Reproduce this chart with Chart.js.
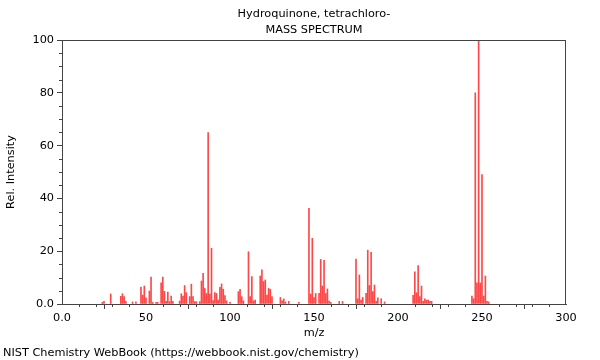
<!DOCTYPE html>
<html>
<head>
<meta charset="utf-8">
<script src="https://cdn.jsdelivr.net/npm/chart.js@4.4.1/dist/chart.umd.min.js"></script>
<style>
  html, body { margin: 0; padding: 0; background: #fff; }
  #wrap { position: relative; width: 600px; height: 360px; }
</style>
</head>
<body>
<div id="wrap"><canvas id="espectro" width="600" height="360"></canvas></div>
<script>
// Datos del espectro (m/z y abundancia relativa)
const tituloLineas = ['Hydroquinone, tetrachloro-', 'MASS SPECTRUM'];
const piePagina = 'NIST Chemistry WebBook (https://webbook.nist.gov/chemistry)';
const ticksX = [0, 50, 100, 150, 200, 250, 300];
const ticksY = [0, 20, 40, 60, 80, 100];

const masas = [
  24, 25, 29, 35, 36, 37, 38, 42, 44, 47, 48, 49, 50, 52, 53, 54, 56, 57,
  59, 60, 61, 62, 63, 64, 65, 66, 70, 71, 72, 73, 74, 76, 77, 78, 79, 80, 82,
  83, 84, 85, 86, 87, 88, 89, 90, 91, 92, 93, 94, 95, 96, 97, 98, 100,
  105, 106, 107, 108, 111, 112, 113, 114, 115, 118, 119, 120, 121, 122, 123, 124, 125,
  130, 131, 132, 133, 135, 141, 147, 148, 149, 150, 151, 153, 154, 155, 156, 157, 158, 159, 160,
  165, 167, 175, 176, 177, 178, 179, 181, 182, 183, 184, 185, 186, 187, 188, 190, 192,
  209, 210, 211, 212, 213, 214, 215, 216, 217, 218, 219, 220,
  244, 245, 246, 247, 248, 249, 250, 251, 252, 253, 254
];
const intensidades = [
  0.6, 1.0, 3.8, 2.9, 3.9, 2.8, 1.0, 0.8, 0.8, 6.4, 3.4, 6.8, 2.3, 4.9, 10.2, 0.6, 0.6, 0.6,
  8.0, 10.2, 4.8, 1.0, 4.5, 0.9, 3.0, 1.0, 1.1, 3.9, 3.0, 7.0, 4.3, 2.8, 7.5, 2.8, 0.9, 0.9, 0.9,
  8.7, 11.6, 5.9, 4.0, 64.9, 3.8, 21.1, 1.3, 4.3, 4.0, 1.5, 6.3, 7.6, 5.6, 3.2, 1.2, 0.6,
  4.7, 5.6, 2.8, 1.2, 19.8, 2.8, 10.4, 1.2, 1.5, 10.6, 12.9, 8.5, 9.1, 3.4, 5.9, 5.6, 2.8,
  2.5, 1.2, 1.9, 0.8, 1.0, 0.6, 36.2, 3.8, 24.9, 2.4, 4.0, 4.0, 16.9, 6.8, 16.5, 4.0, 5.7, 1.1, 0.6,
  1.0, 1.0, 17.0, 2.0, 11.0, 1.5, 2.5, 4.0, 20.4, 7.0, 19.6, 4.7, 7.2, 1.0, 2.3, 2.0, 0.8,
  3.3, 12.2, 4.3, 14.6, 2.8, 6.8, 1.0, 2.0, 1.5, 1.5, 1.0, 1.0,
  3.0, 2.0, 80.0, 8.0, 100, 8.0, 49.0, 3.0, 10.6, 1.0, 0.8
];

const fuente = '"DejaVu Sans", sans-serif';
const tamFuente = 11.3;
const colorEje = '#444';

const puntos = masas.map((m, i) => ({ x: m, y: intensidades[i] }));

// Marcas menores, titulo, marco y pie de pagina
const extras = {
  id: 'extras',
  afterDraw(chart) {
    const ctx = chart.ctx;
    const area = chart.chartArea;
    const sx = chart.scales.x;
    const sy = chart.scales.y;
    ctx.save();
    ctx.strokeStyle = colorEje;
    ctx.lineWidth = 1;
    ctx.beginPath();
    for (let v = 0; v <= 300; v += 10) {
      if (v % 50 === 0) continue;
      const px = Math.round(sx.getPixelForValue(v)) + 0.5;
      ctx.moveTo(px, area.bottom);
      ctx.lineTo(px, area.bottom + 3);
    }
    for (let v = 0; v <= 100; v += 5) {
      if (v % 20 === 0) continue;
      const py = Math.round(sy.getPixelForValue(v)) + 0.5;
      ctx.moveTo(area.left, py);
      ctx.lineTo(area.left - 3, py);
    }
    // marco superior y derecho
    ctx.moveTo(area.left, Math.round(area.top) + 0.5);
    ctx.lineTo(area.right, Math.round(area.top) + 0.5);
    ctx.moveTo(Math.round(area.right) - 0.5, area.top);
    ctx.lineTo(Math.round(area.right) - 0.5, area.bottom);
    ctx.stroke();

    const centro = (area.left + area.right) / 2;
    ctx.fillStyle = '#000';
    ctx.font = tamFuente + 'px ' + fuente;
    ctx.textAlign = 'center';
    ctx.textBaseline = 'middle';
    ctx.fillText(tituloLineas[0], centro, 14);
    ctx.fillText(tituloLineas[1], centro, 30);
    ctx.textAlign = 'left';
    ctx.fillText(piePagina, 3, 353);
    ctx.restore();
  }
};

new Chart(document.getElementById('espectro').getContext('2d'), {
  type: 'bar',
  data: {
    datasets: [{
      data: puntos,
      backgroundColor: 'rgba(255,0,0,0.72)',
      borderWidth: 0,
      barThickness: 1
    }]
  },
  options: {
    responsive: false,
    animation: false,
    layout: { padding: { top: 40, right: 34, left: 0, bottom: 16 } },
    plugins: { legend: { display: false }, tooltip: { enabled: false } },
    scales: {
      x: {
        type: 'linear',
        min: 0, max: 300,
        offset: false,
        afterFit: s => { s.height = 40; },
        afterBuildTicks: s => { s.ticks = ticksX.map(v => ({ value: v })); },
        grid: { display: true, drawOnChartArea: false, tickLength: 5, color: colorEje },
        border: { display: true, color: colorEje },
        ticks: {
          padding: 2,
          color: '#000',
          font: { family: fuente, size: tamFuente },
          callback: v => v === 0 ? '0.0' : String(v)
        },
        title: { display: true, text: 'm/z', color: '#000', font: { family: fuente, size: tamFuente }, padding: { top: 0, bottom: 4 } }
      },
      y: {
        min: 0, max: 100,
        afterFit: s => { s.width = 62; },
        afterBuildTicks: s => { s.ticks = ticksY.map(v => ({ value: v })); },
        grid: { display: true, drawOnChartArea: false, tickLength: 5, color: colorEje },
        border: { display: true, color: colorEje },
        ticks: {
          padding: 3,
          color: '#000',
          font: { family: fuente, size: tamFuente },
          callback: v => v === 0 ? '0.0' : String(v)
        },
        title: { display: true, text: 'Rel. Intensity', color: '#000', font: { family: fuente, size: tamFuente }, padding: { top: 4, bottom: 0 } }
      }
    }
  },
  plugins: [extras]
});
</script>
</body>
</html>
